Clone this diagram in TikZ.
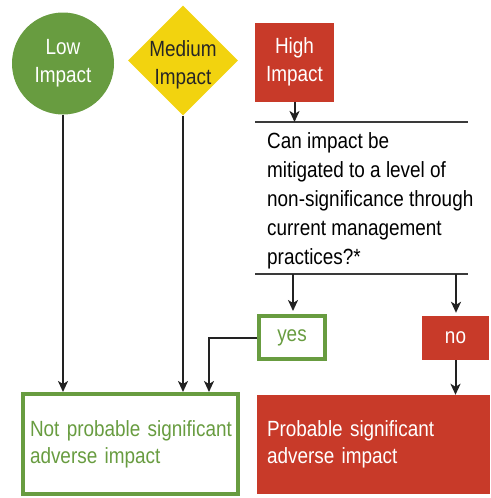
\documentclass[tikz,border=0pt]{standalone}
\usepackage{fontspec}
\setmainfont{Liberation Sans}[FakeStretch=0.86]
\usetikzlibrary{shapes.geometric,arrows.meta}
\definecolor{cgreen}{HTML}{689C40}
\definecolor{cyellow}{HTML}{F2D30F}
\definecolor{cred}{HTML}{C83A29}
\definecolor{cline}{HTML}{222222}
\definecolor{crule}{HTML}{3A3A3A}
\begin{document}
\begin{tikzpicture}[x=1pt,y=-1pt,
  txt/.style={font=\fontsize{22}{28}\selectfont, align=center, inner sep=0pt},
  qtxt/.style={font=\fontsize{22}{29}\selectfont, align=left, inner sep=0pt},
  btxt/.style={font=\fontsize{22}{27}\selectfont, align=left, inner sep=0pt},
  conn/.style={draw=cline, line width=2pt, -{Stealth[length=11pt,width=10pt,inset=3pt]}},
  rule/.style={draw=crule, line width=2pt}]
\useasboundingbox (0,0) rectangle (490,498);
% top shapes
\node[txt, circle, fill=cgreen, text=white, minimum size=102pt] (low) at (63,63.5) {Low\\Impact};
\node[diamond, fill=cyellow, minimum width=110pt, minimum height=110pt, shape aspect=1, inner sep=0pt] (med) at (183,60.5) {};
\node[txt, text=black!85] (medtxt) at (183,64.5) {Medium\\Impact};
\node[txt, fill=cred, text=white, minimum width=79pt, minimum height=79pt] (high) at (294.5,62) {High\\Impact};
% question with rules
\coordinate (r1l) at (255,122); \coordinate (r1r) at (468,122);
\coordinate (r2l) at (255,274); \coordinate (r2r) at (468,274);
\draw[rule] (r1l) -- (r1r);
\draw[rule] (r2l) -- (r2r);
\draw[conn] (high.south) -- (high.south |- r1l);
\node[qtxt, anchor=north west] (q) at (267,132) {Can impact be\\mitigated to a level of\\non-significance through\\current management\\practices?*};
% yes / no
\node[txt, draw=cgreen, line width=4pt, text=cgreen, minimum width=66pt, minimum height=43pt] (yes) at (292,337.5) {yes};
\node[txt, fill=cred, text=white, minimum width=67pt, minimum height=44pt] (no) at (455.5,338) {no};
\coordinate (ya) at (293,274); \coordinate (na) at (456,274);
\draw[conn, shorten >=3pt] (ya) -- (ya |- yes.north);
\draw[conn, shorten >=3pt] (na) -- (na |- no.north);
% outcome boxes
\node[btxt, draw=cgreen, line width=4pt, text=cgreen, minimum height=100pt, text width=201pt, inner xsep=7pt] (np) at (130.5,444) {\mbox{Not probable significant}\\\mbox{adverse impact}};
\node[btxt, fill=cred, text=white, minimum height=99pt, text width=213pt, inner xsep=10pt] (p) at (373.5,444.5) {\mbox{Probable significant}\\\mbox{adverse impact}};
% connectors
\coordinate (yx) at (209,0);
\draw[conn] (low.south) -- (low.south |- np.north);
\draw[conn] (med.south) -- (med.south |- np.north);
\draw[conn] (yes.west) -| (yx |- np.north);
\draw[conn] (no.south) -- (no.south |- p.north);
\end{tikzpicture}
\end{document}
